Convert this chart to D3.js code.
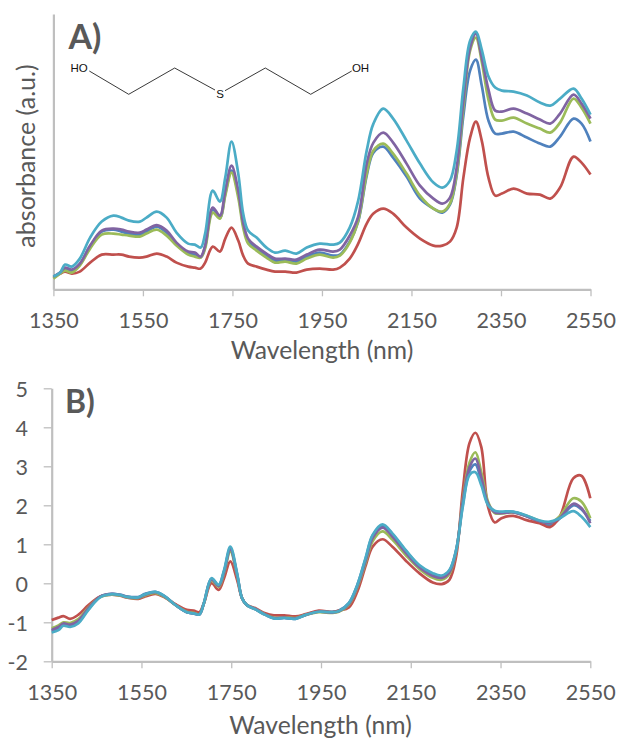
<!DOCTYPE html>
<html><head><meta charset="utf-8">
<script src="https://cdn.jsdelivr.net/npm/d3@7"></script>
<style>html,body{margin:0;padding:0;background:#fff}svg{display:block}text{font-family:Lato,"Open Sans",sans-serif;fill:#595959}</style>
</head><body><svg id="c" width="619" height="738"></svg>
<script>
const wavelengths=[1350,1365,1376,1391,1409,1432,1458,1484,1502,1519,1543,1558,1581,1603,1625,1651,1666,1679,1689,1706,1722,1734,1748,1763,1774,1785,1804,1826,1845,1868,1893,1916,1945,1975,1990,2012,2031,2050,2065,2087,2109,2139,2169,2199,2219,2236,2251,2266,2281,2294,2307,2322,2337,2352,2378,2408,2437,2460,2482,2512,2530,2550];
const xTicks=[1350,1550,1750,1950,2150,2350,2550];
const bTicks=[-2,-1,0,1,2,3,4,5];
const seriesColors=["#4F81BD","#C0504D","#9BBB59","#8064A2","#4BACC6"];

const aBlue=[13,17,21,19,25,43,58,60,58,56,55,58,63,57,46,36,35,32,43,80,72,96,119,96,65,49,41,34,29,30,28,33,37,34,35,48,68,114,137,143,132,113,91,81,77,85,114,174,219,230,204,169,156,156,158,152,146,143,153,171,166,148];
const aRed=[12,16,18,16,18,27,35,35,35,33,32,33,36,33,27,23,22,21,27,43,38,51,62,49,34,26,23,20,18,18,17,20,21,20,22,31,46,66,76,81,76,62,51,44,44,48,62,112,152,168,149,112,94,96,101,96,95,91,102,133,127,115];
const aGreen=[11,16,19,17,24,41,55,56,55,54,53,56,60,54,44,35,33,32,41,77,71,94,117,92,62,46,39,32,27,28,26,31,35,32,34,47,69,116,139,146,136,116,94,81,78,86,116,182,239,252,228,190,170,169,172,166,161,157,167,191,182,166];
const aPurple=[13,17,22,20,26,44,59,61,60,58,57,60,64.5,59,47,38,37,33,44,82,74,99,124,99,67,51,43,36,31,31,30,35,40,38,40,54,73,126,147,157,147,126,104,91,86,92,122,189,242,256,232,200,179,178,181,176,170,166,176,195,186,171];
const aTeal=[13,17,25,23,31,52,68,74,72,69,68,72,78,72,57,46,45,42,56,99,88,112,148,116,76,59,52,42,37,39,36,42,46,45,47,62,89,139,166,181,171,149,126,107,102,109,139,202,249,258,240,213,202,199,198,194,187,184,191,201,191,175];

const bBlue=[-1.22,-1.15,-1.06,-1.08,-0.99,-0.66,-0.34,-0.27,-0.29,-0.34,-0.35,-0.27,-0.22,-0.34,-0.55,-0.74,-0.77,-0.8,-0.51,0.12,-0.05,0.31,0.9,0.24,-0.38,-0.56,-0.67,-0.81,-0.9,-0.89,-0.91,-0.81,-0.72,-0.73,-0.7,-0.51,-0.04,0.66,1.22,1.48,1.26,0.83,0.45,0.23,0.17,0.32,0.85,2.02,2.88,3.05,2.62,2.03,1.84,1.82,1.83,1.72,1.58,1.5,1.66,2.0,1.9,1.6];
const bRed=[-0.94,-0.88,-0.84,-0.91,-0.81,-0.56,-0.34,-0.29,-0.32,-0.37,-0.4,-0.34,-0.27,-0.37,-0.53,-0.68,-0.7,-0.74,-0.51,0,-0.17,0.13,0.56,0.09,-0.38,-0.56,-0.64,-0.77,-0.82,-0.82,-0.85,-0.79,-0.7,-0.74,-0.7,-0.62,-0.21,0.47,0.94,1.13,0.94,0.58,0.26,0.02,-0.02,0.09,0.68,2.39,3.6,3.86,3.5,1.97,1.56,1.67,1.73,1.62,1.54,1.44,1.71,2.69,2.76,2.18];
const bGreen=[-1.15,-1.08,-1,-1.02,-0.92,-0.62,-0.35,-0.29,-0.31,-0.36,-0.38,-0.31,-0.25,-0.36,-0.55,-0.73,-0.76,-0.79,-0.52,0.07,-0.09,0.26,0.82,0.2,-0.38,-0.56,-0.66,-0.8,-0.88,-0.87,-0.89,-0.81,-0.74,-0.76,-0.73,-0.55,-0.1,0.55,1.08,1.33,1.12,0.72,0.37,0.14,0.09,0.24,0.8,2.15,3.1,3.36,2.85,2.1,1.8,1.79,1.82,1.73,1.6,1.55,1.72,2.18,2.1,1.67];
const bPurple=[-1.2,-1.12,-1.03,-1.06,-0.96,-0.64,-0.34,-0.27,-0.3,-0.35,-0.37,-0.29,-0.23,-0.35,-0.55,-0.74,-0.77,-0.8,-0.52,0.1,-0.07,0.29,0.87,0.22,-0.38,-0.56,-0.66,-0.8,-0.89,-0.88,-0.9,-0.81,-0.73,-0.75,-0.72,-0.53,-0.07,0.6,1.16,1.43,1.2,0.78,0.41,0.19,0.14,0.28,0.82,2.1,2.98,3.2,2.72,2.05,1.82,1.8,1.82,1.72,1.59,1.55,1.68,2.04,1.93,1.54];
const bTeal=[-1.26,-1.2,-1.09,-1.12,-1.03,-0.68,-0.36,-0.28,-0.3,-0.35,-0.36,-0.28,-0.22,-0.34,-0.55,-0.74,-0.77,-0.8,-0.51,0.13,-0.04,0.34,0.94,0.26,-0.38,-0.56,-0.67,-0.81,-0.9,-0.89,-0.91,-0.81,-0.73,-0.74,-0.71,-0.51,-0.04,0.68,1.24,1.51,1.28,0.85,0.47,0.26,0.2,0.34,0.85,1.97,2.78,2.85,2.52,2.01,1.86,1.84,1.84,1.74,1.61,1.58,1.67,1.85,1.71,1.44];

const moleculeA=[[89.3,71],[128.7,94.3],[174.7,68],[215,90]];
const moleculeB=[[225,90.7],[265.3,68],[310.7,94.3],[351.7,71]];

const svg=d3.select("#c");
const AXIS="#BFBFBF";
function panel(o){
  const x=d3.scaleLinear().domain([1350,2550]).range(o.xr);
  const y=d3.scaleLinear().domain(o.yd).range(o.yr);
  const g=svg.append("g");
  const xa=g.append("g").attr("transform",`translate(0,${o.yr[0]})`).call(d3.axisBottom(x).tickValues(xTicks).tickFormat(d3.format("d")).tickSize(7).tickSizeOuter(0));
  xa.select(".domain").attr("stroke",AXIS).attr("stroke-width",2.2);
  xa.selectAll(".tick line").attr("stroke",AXIS).attr("stroke-width",1.3);
  xa.selectAll("text").attr("font-size",21.5).attr("dy",0).attr("y",39);
  const ya=g.append("g").attr("transform",`translate(${o.xr[0]},0)`).call(d3.axisLeft(y).tickValues(o.yt||[]).tickFormat(d3.format("d")).tickSize(o.yt?8:0).tickSizeOuter(0));
  ya.select(".domain").attr("stroke",AXIS).attr("stroke-width",2.2);
  ya.selectAll(".tick line").attr("stroke",AXIS).attr("stroke-width",1.3);
  ya.selectAll("text").attr("font-size",21.5).attr("x",-23.7).attr("dy","0.36em").text(d=>String(d));
  const line=d3.line().x((d,i)=>x(wavelengths[i])).y(d=>y(d)).curve(d3.curveCatmullRom.alpha(0.5));
  g.selectAll("path.s").data(o.series).join("path").attr("class","s").attr("d",line).attr("fill","none")
    .attr("stroke",(d,i)=>seriesColors[i]).attr("stroke-width",2.7).attr("stroke-linejoin","round");
  g.append("text").attr("x",o.titleX).attr("y",o.titleY).attr("text-anchor","middle").attr("font-size",24.7).text("Wavelength (nm)");
  g.append("text").attr("x",o.tagX).attr("y",o.tagY).attr("font-size",o.tagS).attr("font-weight",700).text(o.tag);
}
panel({xr:[53.4,590.5],yr:[289.3,14],yd:[0.3,275.6],series:[aBlue,aRed,aGreen,aPurple,aTeal],titleX:322,titleY:359,tag:"A)",tagX:68.5,tagY:49.3,tagS:34});
panel({xr:[51.7,590.3],yr:[661.3,388.3],yd:[-2,5],yt:bTicks,series:[bBlue,bRed,bGreen,bPurple,bTeal],titleX:320.5,titleY:733.5,tag:"B)",tagX:65,tagY:413,tagS:32});

svg.append("text").attr("transform","translate(35,156) rotate(-90)").attr("text-anchor","middle").attr("font-size",25).text("absorbance (a.u.)");

const ml=d3.line();
[moleculeA,moleculeB].forEach(m=>svg.append("path").attr("d",ml(m)).attr("fill","none").attr("stroke","#222").attr("stroke-width",0.9));
[["HO",79,72],["S",220,98],["OH",360.5,72]].forEach(t=>svg.append("text").attr("x",t[1]).attr("y",t[2]).attr("text-anchor","middle").attr("font-size",11.5).style("font-family","Liberation Sans").style("fill","#111").text(t[0]));
</script></body></html>
